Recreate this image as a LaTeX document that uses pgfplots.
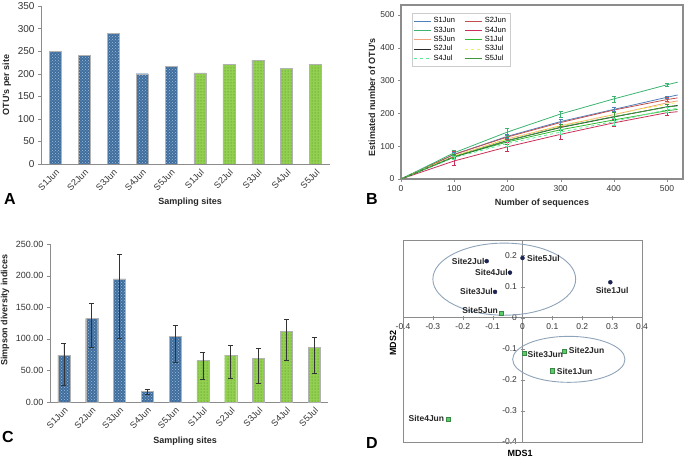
\documentclass[border=0pt]{standalone}
\usepackage{pgfplots}
\pgfplotsset{compat=1.18}
\usepackage{fontspec}
\setmainfont{Liberation Sans}
\usetikzlibrary{patterns}
\definecolor{barblue}{HTML}{3F6E9E}
\definecolor{barblueL}{HTML}{A3BEDB}
\definecolor{bargreen}{HTML}{92D050}
\definecolor{dotgreen}{HTML}{4A7A2A}
\definecolor{axgray}{HTML}{8C8C8C}
\definecolor{txt}{HTML}{333333}
\definecolor{cSaJun}{HTML}{4F81BD}
\definecolor{cSbJun}{HTML}{C0504D}
\definecolor{cScJun}{HTML}{3CB371}
\definecolor{cSdJun}{HTML}{C8305A}
\definecolor{cSeJun}{HTML}{F0A07A}
\definecolor{cSaJul}{HTML}{2DB82D}
\definecolor{cSbJul}{HTML}{2B2B2B}
\definecolor{cScJul}{HTML}{F2F25A}
\definecolor{cSdJul}{HTML}{5EE89A}
\definecolor{cSeJul}{HTML}{3C9A3C}
\definecolor{ellc}{HTML}{8FA3B8}
\definecolor{navy}{HTML}{1C2452}
\definecolor{sqgreen}{HTML}{5CCB6A}
\definecolor{sqedge}{HTML}{3A8A45}
\pgfplotsset{
  every axis/.append style={scale only axis, anchor=south west,
    /pgf/number format/assume math mode=true,
    tick label style={text=txt},
    label style={font=\bfseries\fontsize{9}{10}\selectfont, text=black!85},
  },
  barpanel/.style={axis lines=left, axis line style={axgray,-,line width=0.8pt},
    xmin=-0.5, xmax=9.5, ymin=0, xtick={0,...,9},
    xticklabels={S1Jun,S2Jun,S3Jun,S4Jun,S5Jun,S1Jul,S2Jul,S3Jul,S4Jul,S5Jul},
    x tick label style={rotate=45, anchor=north east, font=\fontsize{9}{10}\selectfont, inner sep=1pt},
    y tick label style={font=\fontsize{10}{11}\selectfont},
    xtick style={draw=none}, ytick style={axgray}, tick align=outside, major tick length=3pt},
  bluebar/.style={ybar, bar width=12pt, bar shift=0pt, fill=barblue, draw=gray!60,
    postaction={pattern=crosshatch dots, pattern color=barblueL}},
  greenbar/.style={ybar, bar width=12pt, bar shift=0pt, fill=bargreen, draw=gray!60,
    postaction={pattern=dots, pattern color=dotgreen}},
  errB/.style={forget plot, draw=none, mark=none, error bars/.cd, y dir=both, y explicit,
    error bar style={draw=#1, line width=0.6pt},
    error mark options={draw=#1, rotate=90, mark size=2pt, line width=0.6pt}},
  errC/.style={error bars/.cd, y dir=both, y explicit,
    error bar style={black!80, line width=0.8pt},
    error mark options={black!80, rotate=90, mark size=2.5pt, line width=0.8pt}},
}
\begin{document}
\begin{tikzpicture}
\useasboundingbox (0pt,0pt) rectangle (685pt,458pt);
% ---------- Panel A ----------
\begin{axis}[barpanel, at={(41pt,294pt)}, width=289pt, height=158pt,
  ymax=350, ytick={0,50,...,350},
  ylabel={OTU's per site}, xlabel={Sampling sites},
  ylabel style={at={(axis description cs:-0.118,0.5)}, anchor=center},
  xlabel style={at={(axis description cs:0.516,-0.24)}, anchor=center}]
\addplot[bluebar] coordinates {(0,250) (1,241) (2,290) (3,200) (4,217)};
\addplot[greenbar] coordinates {(5,202) (6,220) (7,230) (8,212) (9,221)};
\end{axis}
% ---------- Panel B ----------
\begin{axis}[at={(401pt,279pt)}, width=282pt, height=174pt,
  xmin=0, xmax=530, ymin=0, ymax=530,
  xtick={0,100,...,500}, ytick={0,100,...,500},
  xtick pos=left, ytick pos=left,
  axis line style={axgray, line width=1.2pt}, tick style={axgray},
  tick align=outside, major tick length=3pt,
  tick label style={font=\fontsize{8.5}{9}\selectfont},
  ylabel={Estimated number of OTU's}, xlabel={Number of sequences},
  ylabel style={at={(axis description cs:-0.103,0.47)}, anchor=center},
  xlabel style={at={(axis description cs:0.5,-0.138)}, anchor=center},
  legend columns=2, legend cell align=left,
  legend style={at={(0.038,0.952)}, anchor=north west, draw=gray!40,
    font=\fontsize{7.5}{8}\selectfont, inner sep=2pt, row sep=-1.5pt,
    /tikz/every even column/.append style={column sep=8pt}},
  legend image code/.code={\draw[#1] (0pt,0pt) -- (17pt,0pt);},
  every axis plot/.append style={no marks, line width=0.8pt}]
\addplot[cSaJun] coordinates {(0,0) (100,75) (200,130) (300,175) (400,212) (500,249) (520,256)};
\addplot[cSbJun] coordinates {(0,0) (100,75) (200,128) (300,172) (400,210) (500,242) (520,247)};
\addplot[cScJun] coordinates {(0,0) (100,80) (200,143) (300,198) (400,244) (500,287) (520,295)};
\addplot[cSdJun] coordinates {(0,0) (100,55) (200,98) (300,136) (400,171) (500,202) (520,205)};
\addplot[cSeJun] coordinates {(0,0) (100,70) (200,122) (300,162) (400,196) (500,232) (520,238)};
\addplot[cSaJul] coordinates {(0,0) (100,68) (200,113) (300,150) (400,180) (500,208) (520,212)};
\addplot[cSbJul] coordinates {(0,0) (100,67) (200,117) (300,157) (400,189) (500,220) (520,224)};
\addplot[cScJul, dashed] coordinates {(0,0) (100,70) (200,122) (300,163) (400,197) (500,228) (520,233)};
\addplot[cSdJul, dashed] coordinates {(0,0) (100,65) (200,108) (300,143) (400,175) (500,211) (520,215)};
\addplot[cSeJul] coordinates {(0,0) (100,68) (200,117) (300,158) (400,190) (500,219) (520,223)};
\legend{S1Jun,S2Jun,S3Jun,S4Jun,S5Jun,S1Jul,S2Jul,S3Jul,S4Jul,S5Jul}
\addplot[errB=cScJun] coordinates {(100,80) +- (0,7) (200,143) +- (0,11) (300,198) +- (0,9) (400,244) +- (0,9) (500,287) +- (0,5)};
\addplot[errB=cSdJun] coordinates {(100,55) +- (0,14) (200,98) +- (0,14) (300,136) +- (0,14) (400,171) +- (0,12) (500,202) +- (0,8)};
\addplot[errB=cSbJun] coordinates {(100,75) +- (0,8) (200,128) +- (0,8) (300,172) +- (0,10) (400,210) +- (0,8) (500,242) +- (0,6)};
\addplot[errB=cSaJun] coordinates {(100,75) +- (0,6) (200,130) +- (0,7) (300,175) +- (0,8) (400,212) +- (0,7) (500,249) +- (0,4)};
\addplot[errB=cSeJul] coordinates {(100,68) +- (0,6) (200,117) +- (0,10) (300,158) +- (0,10) (400,190) +- (0,12) (500,219) +- (0,10)};
\addplot[errB=cSdJul] coordinates {(100,65) +- (0,5) (200,108) +- (0,7) (300,143) +- (0,8) (400,175) +- (0,10) (500,211) +- (0,8)};
\end{axis}
% ---------- Panel C ----------
\begin{axis}[barpanel, at={(50pt,56pt)}, width=278pt, height=158pt,
  ymax=250, ytick={0,50,...,250},
  y tick label style={font=\fontsize{9}{10}\selectfont},
  yticklabel style={/pgf/number format/.cd, fixed, fixed zerofill, precision=2},
  ylabel={Simpson diversity indices}, xlabel={Sampling sites},
  ylabel style={at={(axis description cs:-0.162,0.58)}, anchor=center},
  xlabel style={at={(axis description cs:0.486,-0.247)}, anchor=center}]
\addplot[bluebar, errC] coordinates {(0,74) += (0,18) -= (0,48) (1,132) += (0,24) -= (0,46) (2,195) += (0,38) -= (0,94) (3,16.5) += (0,3) -= (0,5) (4,104) += (0,17) -= (0,41)};
\addplot[greenbar, errC] coordinates {(5,66) += (0,13) -= (0,30) (6,74) += (0,15) -= (0,37) (7,69) += (0,16) -= (0,39) (8,112) += (0,19) -= (0,46) (9,86) += (0,16) -= (0,40)};
\end{axis}
% ---------- Panel D ----------
\begin{axis}[at={(403pt,16pt)}, width=239pt, height=202pt,
  xmin=-0.4, xmax=0.4, ymin=-0.4, ymax=0.25,
  axis lines=middle, axis line style={axgray,-,line width=0.8pt},
  xtick={-0.4,-0.3,-0.2,-0.1,0,0.1,0.2,0.3,0.4},
  ytick={-0.4,-0.3,-0.2,-0.1,0,0.1,0.2},
  hide obscured x ticks=false, hide obscured y ticks=false,
  tick align=center, major tick length=4pt, tick style={axgray},
  tick label style={font=\fontsize{8.5}{9}\selectfont},
  xlabel={\bfseries MDS1}, ylabel={\bfseries MDS2},
  xlabel style={at={(axis description cs:0.49,-0.054)}, anchor=center, font=\bfseries\fontsize{9}{10}\selectfont},
  ylabel style={at={(axis description cs:-0.042,0.49)}, anchor=center, rotate=90, font=\bfseries\fontsize{9}{10}\selectfont},
  clip=false]
\draw[axgray, line width=0.8pt] (rel axis cs:0,0) rectangle (rel axis cs:1,1);
\draw[ellc, line width=0.9pt] (axis cs:-0.061,0.124) ellipse [x radius=0.239, y radius=0.116];
\draw[ellc, line width=0.9pt] (axis cs:0.155,-0.134) ellipse [x radius=0.188, y radius=0.074];
\addplot[only marks, mark=*, mark size=2pt, navy] coordinates {(-0.120,0.182) (-0.042,0.145) (-0.092,0.083) (0.0,0.192) (0.294,0.114)};
\addplot[only marks, mark=square*, mark size=2.2pt, fill=sqgreen, draw=sqedge] coordinates {(-0.071,0.015) (0.005,-0.114) (0.140,-0.108) (0.100,-0.171) (-0.249,-0.326)};
\begin{scope}[every node/.style={font=\bfseries\fontsize{8.5}{9}\selectfont, text=black!85, inner sep=2pt}]
\node[anchor=east] at (axis cs:-0.120,0.182) {Site2Jul};
\node[anchor=east] at (axis cs:-0.042,0.145) {Site4Jul};
\node[anchor=east] at (axis cs:-0.092,0.085) {Site3Jul};
\node[anchor=west] at (axis cs:0.008,0.192) {Site5Jul};
\node[anchor=north] at (axis cs:0.30,0.105) {Site1Jul};
\node[anchor=east] at (axis cs:-0.075,0.022) {Site5Jun};
\node[anchor=west] at (axis cs:0.010,-0.117) {Site3Jun};
\node[anchor=west] at (axis cs:0.148,-0.106) {Site2Jun};
\node[anchor=west] at (axis cs:0.108,-0.173) {Site1Jun};
\node[anchor=east] at (axis cs:-0.255,-0.324) {Site4Jun};
\end{scope}
\end{axis}
% ---------- Panel letters ----------
\begin{scope}[every node/.style={font=\bfseries\fontsize{16}{16}\selectfont, anchor=base west, inner sep=0pt}]
\node at (4pt,253pt) {A};
\node at (366pt,253pt) {B};
\node at (2pt,16pt) {C};
\node at (366pt,10pt) {D};
\end{scope}
\end{tikzpicture}
\end{document}
